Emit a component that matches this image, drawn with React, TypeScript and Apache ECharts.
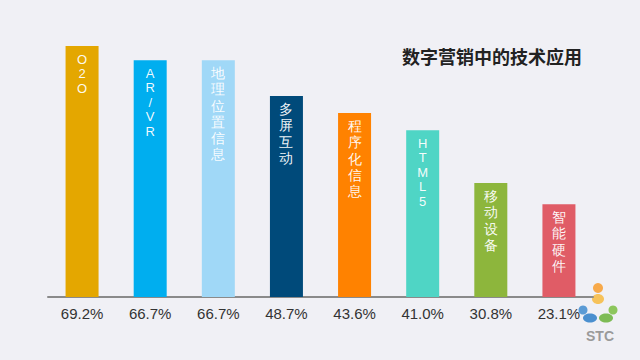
import React, { useEffect, useRef } from "react";
import * as echarts from "echarts";

const categories = ["O2O", "AR/VR", "地理位置信息", "多屏互动", "程序化信息", "HTML5", "移动设备", "智能硬件"];
const percents = [69.2, 66.7, 66.7, 48.7, 43.6, 41.0, 30.8, 23.1];
// Visual bar lengths as drawn in the picture (same scale as 69.2 for the first bar)
const barLengths = [69.2, 65.3, 65.3, 55.4, 50.7, 46.0, 31.4, 25.6];
const colors = ["#e4a700", "#00aeef", "#a0d8f7", "#004a7a", "#ff8200", "#4fd5c5", "#8db63c", "#e05c66"];
const title = "数字营销中的技术应用";

export default function App() {
  const ref = useRef<HTMLDivElement>(null);
  useEffect(() => {
    if (!ref.current) return;
    const chart = echarts.init(ref.current, undefined, { renderer: "svg" });
    const isLatin = (s: string) => /^[A-Za-z0-9\/]+$/.test(s);
    chart.setOption({
      animation: false,
      backgroundColor: "#f0f0f5",
      title: {
        text: title,
        left: 402,
        top: 47,
        padding: 0,
        textStyle: { fontSize: 18, fontWeight: "bold", color: "#222", fontFamily: "Noto Sans CJK SC" },
      },
      grid: { left: 48, right: 47, top: 46, bottom: 63 },
      xAxis: {
        type: "category",
        data: categories,
        axisLine: { lineStyle: { color: "#8a8a8a", width: 2 } },
        axisTick: { show: false },
        axisLabel: {
          margin: 9,
          fontSize: 15,
          color: "#333",
          fontFamily: "Liberation Sans",
          formatter: (_v: string, i: number) => percents[i].toFixed(1) + "%",
        },
      },
      yAxis: { type: "value", min: 0, max: 69.2, show: false, splitLine: { show: false } },
      series: [
        {
          type: "bar",
          barWidth: 33,
          data: barLengths.map((v, i) => ({
            value: v,
            itemStyle: { color: colors[i] },
            label: {
              show: true,
              position: "insideTop",
              distance: isLatin(categories[i]) ? 6 : 5,
              color: "rgba(255,255,255,0.95)",
              fontSize: isLatin(categories[i]) ? 13 : 14,
              lineHeight: isLatin(categories[i]) ? 14.5 : 16.2,
              fontFamily: "Liberation Sans",
              formatter: () => categories[i].split("").join("\n"),
            },
          })),
        },
      ],
      graphic: [
        { type: "circle", shape: { cx: 598, cy: 288, r: 5 }, style: { fill: "#f7a94a" } },
        { type: "ellipse", shape: { cx: 598, cy: 299, rx: 6, ry: 5 }, style: { fill: "#f6c25a" } },
        { type: "circle", shape: { cx: 583, cy: 310, r: 4.5 }, style: { fill: "#5b9bd5" } },
        { type: "ellipse", shape: { cx: 590, cy: 318, rx: 7, ry: 4.5 }, style: { fill: "#4a8fcf" } },
        { type: "circle", shape: { cx: 613, cy: 310, r: 4.5 }, style: { fill: "#8cc65c" } },
        { type: "ellipse", shape: { cx: 606, cy: 318, rx: 7, ry: 4.5 }, style: { fill: "#7dbb55" } },
        {
          type: "text",
          x: 600,
          y: 336,
          style: {
            text: "STC",
            fill: "#9a9a9a",
            fontSize: 14,
            fontWeight: "bold",
            fontFamily: "Liberation Sans",
            textAlign: "center",
            textVerticalAlign: "middle",
          },
        },
      ],
    });
    return () => chart.dispose();
  }, []);
  return <div ref={ref} style={{ width: 640, height: 360, position: "fixed", left: 0, top: 0 }} />;
}
